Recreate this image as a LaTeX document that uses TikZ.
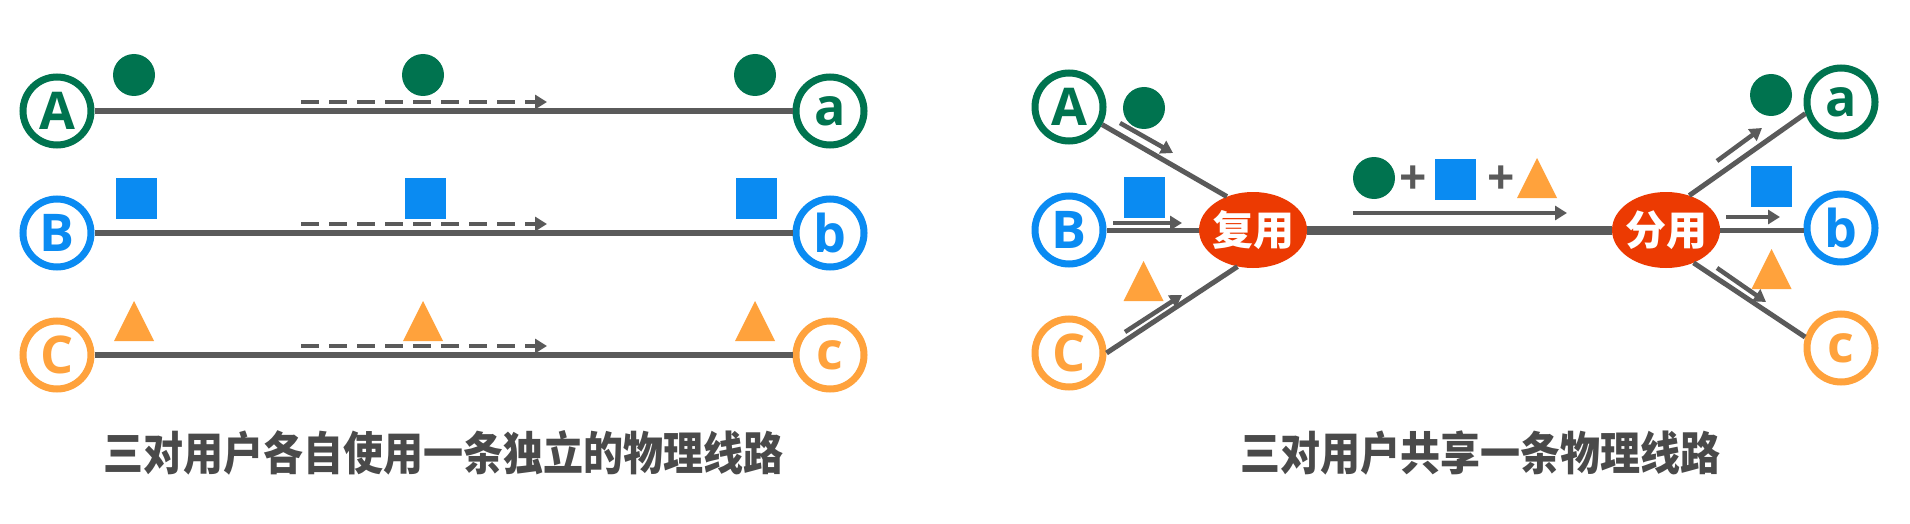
\documentclass[tikz,border=0pt]{standalone}
\usepackage{fontspec}
\usetikzlibrary{arrows.meta,shapes.geometric}
\newfontfamily\cjk{Noto Sans CJK SC}
\newfontfamily\lat{Open Sans}
\definecolor{cgreen}{HTML}{00734F}
\definecolor{cblue}{HTML}{0A8BF2}
\definecolor{corange}{HTML}{FFA23C}
\definecolor{cred}{HTML}{EC3A02}
\definecolor{cline}{HTML}{5A5A5A}
\definecolor{ctext}{HTML}{4A4A4A}
\newcommand\otri[1]{\fill[corange] (#1) ++(0,-20) -- ++(20,40) -- ++(-40,0) -- cycle;}
\newcommand\tallbox[1]{\scalebox{1}[1.15]{#1}}
\tikzset{
  usr/.style={circle, draw=#1, line width=7pt, fill=white, minimum size=68pt, inner sep=0pt, text=#1, font=\lat\bfseries\fontsize{52}{52}\selectfont},
  gdot/.style={circle, fill=cgreen, minimum size=42pt, inner sep=0pt},
  bsq/.style={rectangle, fill=cblue, minimum size=41pt, inner sep=0pt},
  wire/.style={draw=cline, line width=6.5pt},
  thinwire/.style={draw=cline, line width=5pt},
  trunk/.style={draw=cline, line width=9pt},
  dasharrow/.style={draw=cline, line width=4.5pt, dash pattern=on 18pt off 10pt, -{Triangle[length=12pt,width=14pt]}},
  flow/.style={draw=cline, line width=4.5pt, -{Triangle[length=12pt,width=14pt]}},
  hub/.style={ellipse, fill=cred, minimum width=108pt, minimum height=76pt, inner xsep=-5pt, inner ysep=0pt, text=white, font=\cjk\bfseries\fontsize{41}{41}\selectfont},
  caption/.style={text=ctext, font=\cjk\bfseries\fontsize{40}{40}\selectfont},
  plus/.style={text=cline, font=\lat\bfseries\fontsize{48}{48}\selectfont, inner sep=0pt}
}
\begin{document}
\begin{tikzpicture}[x=1pt,y=-1pt]
\useasboundingbox[fill=white] (0,0) rectangle (1910,524);

% ---------- left panel ----------
\node[usr=cgreen] (A1) at (57,111) {A};
\node[usr=cblue] (B1) at (57,233) {B};
\node[usr=corange] (C1) at (57,355) {C};
\node[usr=cgreen] (a1) at (830,111) {a};
\node[usr=cblue] (b1) at (830,233) {b};
\node[usr=corange] (c1) at (830,355) {c};
\draw[wire] (A1) -- (a1);
\draw[wire] (B1) -- (b1);
\draw[wire] (C1) -- (c1);

\node[gdot] (gl1) at (134,75) {};
\node[gdot] (gl2) at (423,75) {};
\node[gdot] (gl3) at (755,75) {};
\node[bsq] (bl1) at (136,198) {};
\node[bsq] (bl2) at (425,198) {};
\node[bsq] (bl3) at (756,198) {};
\otri{134,321}
\otri{423,321}
\otri{755,321}

\coordinate (dA0) at (301,102); \coordinate (dA1) at (547,102);
\coordinate (dB0) at (301,224); \coordinate (dB1) at (547,224);
\coordinate (dC0) at (301,346); \coordinate (dC1) at (547,346);
\draw[dasharrow] (dA0) -- (dA1);
\draw[dasharrow] (dB0) -- (dB1);
\draw[dasharrow] (dC0) -- (dC1);

\node[caption] (cap1) at (443,453) {\tallbox{三对用户各自使用一条独立的物理线路}};

% ---------- right panel ----------
\node[usr=cgreen] (A2) at (1069,107) {A};
\node[usr=cblue] (B2) at (1069,230) {B};
\node[usr=corange] (C2) at (1069,353) {C};
\node[usr=cgreen] (a2) at (1841,102) {a};
\node[usr=cblue] (b2) at (1841,228) {b};
\node[usr=corange] (c2) at (1841,348) {c};
\node[hub] (mux) at (1253,230) {复用};
\node[hub] (dmx) at (1666,230) {分用};

\draw[thinwire] (A2.332) -- (mux.128);
\draw[thinwire] (B2.east) -- (mux.west);
\draw[thinwire] (C2.east) -- (mux.247);
\draw[trunk] (mux) -- (dmx);
\draw[thinwire] (dmx.56) -- (a2.198);
\draw[thinwire] (dmx.east) -- (dmx.east -| b2.west);
\draw[thinwire] (dmx.310) -- (c2.163);

\node[gdot] (gr1) at (1144,108) {};
\node[bsq] (br1) at (1144,197.5) {};
\otri{1143.5,281}

\node[gdot] (gr2) at (1374,178) {};
\node[plus] (p1) at (1413,180) {+};
\node[bsq] (br2) at (1455,179.5) {};
\node[plus] (p2) at (1501,180) {+};
\otri{1537,178}

\node[gdot] (gr3) at (1771,95) {};
\node[bsq] (br3) at (1771.5,186.5) {};
\otri{1771.5,269}

\coordinate (fA0) at (1120,123); \coordinate (fA1) at (1173,153);
\coordinate (fB0) at (1113,223); \coordinate (fB1) at (1182,223);
\coordinate (fC0) at (1125,332); \coordinate (fC1) at (1182,295);
\coordinate (fT0) at (1353,213); \coordinate (fT1) at (1567,213);
\coordinate (fa0) at (1717,161); \coordinate (fa1) at (1762,128);
\coordinate (fb0) at (1726,217); \coordinate (fb1) at (1780,217);
\coordinate (fc0) at (1717,268); \coordinate (fc1) at (1766,302);
\draw[flow] (fA0) -- (fA1);
\draw[flow] (fB0) -- (fB1);
\draw[flow] (fC0) -- (fC1);
\draw[flow] (fT0) -- (fT1);
\draw[flow] (fa0) -- (fa1);
\draw[flow] (fb0) -- (fb1);
\draw[flow] (fc0) -- (fc1);

\node[caption] (cap2) at (1480,453) {\tallbox{三对用户共享一条物理线路}};
\end{tikzpicture}
\end{document}
